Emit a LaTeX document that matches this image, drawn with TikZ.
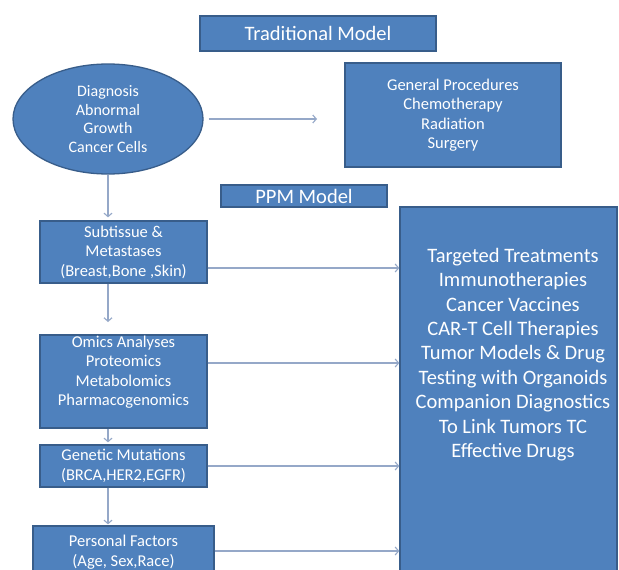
\documentclass[tikz,border=0pt]{standalone}
\usepackage{fontspec}
\setmainfont{Carlito}
\usetikzlibrary{arrows.meta,shapes.geometric,calc}
\definecolor{boxfill}{HTML}{4F81BD}
\definecolor{boxline}{HTML}{385D8A}
\definecolor{conncol}{HTML}{95A8C8}
\begin{document}
\begin{tikzpicture}[x=1pt,y=-1pt,
  box/.style={draw=boxline, fill=boxfill, line width=1.3pt, inner sep=0pt, text=white, align=center},
  lbl/.style={text=white, align=center, inner sep=0pt},
  conn/.style={draw=conncol, line width=1.1pt, -{Straight Barb[length=3.5pt,width=8pt]}},
  fs/.style={font=\fontsize{16.5}{19.5}\selectfont},
  fe/.style={font=\fontsize{16}{18.8}\selectfont},
  fl/.style={font=\fontsize{20.5}{24.4}\selectfont}]
\clip (0,0) rectangle (619,570);
\fill[white] (0,0) rectangle (619,570);

% traditional part
\node[box, fl, minimum width=236pt, minimum height=35pt] (trad) at (318,33.5) {Traditional Model};
\node[box, ellipse, fe, minimum width=190pt, minimum height=110pt] (diag) at (108,119)
  {Diagnosis\\Abnormal\\Growth\\Cancer Cells};
\node[box, fs, minimum width=216pt, minimum height=104pt] (gen) at (453,115)
  {General Procedures\\Chemotherapy\\Radiation\\Surgery};

% PPM part
\node[box, fl, minimum width=166pt, minimum height=22pt] (ppm) at (304,196) {PPM Model};
\node[box, fs, minimum width=167pt, minimum height=62pt] (sub) at (123.5,252)
  {Subtissue \&\\Metastases\\(Breast,Bone ,Skin)};
\node[box, minimum width=167pt, minimum height=93pt] (omics) at (123.5,381.5) {};
\node[lbl, fs] (omicstxt) at (123.5,372)
  {Omics Analyses\\Proteomics\\Metabolomics\\Pharmacogenomics};
\node[box, fs, minimum width=167pt, minimum height=42pt] (mut) at (123.5,466)
  {Genetic Mutations\\(BRCA,HER2,EGFR)};
\node[box, minimum width=181pt, minimum height=84pt] (pers) at (123.5,568) {};
\node[lbl, fs] (perstxt) at (123.5,552) {Personal Factors\\(Age, Sex,Race)};
\node[box, minimum width=217pt, minimum height=413pt] (big) at (508.5,413.5) {};
\node[lbl, fl] (bigtxt) at (513,354.5)
  {Targeted Treatments\\Immunotherapies\\Cancer Vaccines\\CAR-T Cell Therapies\\Tumor Models \& Drug\\Testing with Organoids\\Companion Diagnostics\\To Link Tumors TC\\Effective Drugs};

% connectors
\coordinate (t1) at (317,119);
\draw[conn, shorten <=5pt] (diag) -- (t1);
\draw[conn, shorten >=3pt] (diag.south) -- (diag.south |- sub.north);
\coordinate (t2) at (108,322);
\draw[conn] (diag.south |- sub.south) -- (t2);
\draw[conn, shorten >=2pt] (diag.south |- omics.south) -- (diag.south |- mut.north);
\draw[conn, shorten >=1pt] (diag.south |- mut.south) -- (diag.south |- pers.north);

\coordinate (a1) at ($(sub.east)+(0,16)$);
\draw[conn] (a1) -- (a1 -| big.west);
\coordinate (a2) at ($(omics.east)+(0,-18.5)$);
\draw[conn] (a2) -- (a2 -| big.west);
\draw[conn] (mut.east) -- (mut.east -| big.west);
\coordinate (a4) at ($(pers.east)+(0,-17)$);
\draw[conn] (a4) -- (a4 -| big.west);
\end{tikzpicture}
\end{document}
